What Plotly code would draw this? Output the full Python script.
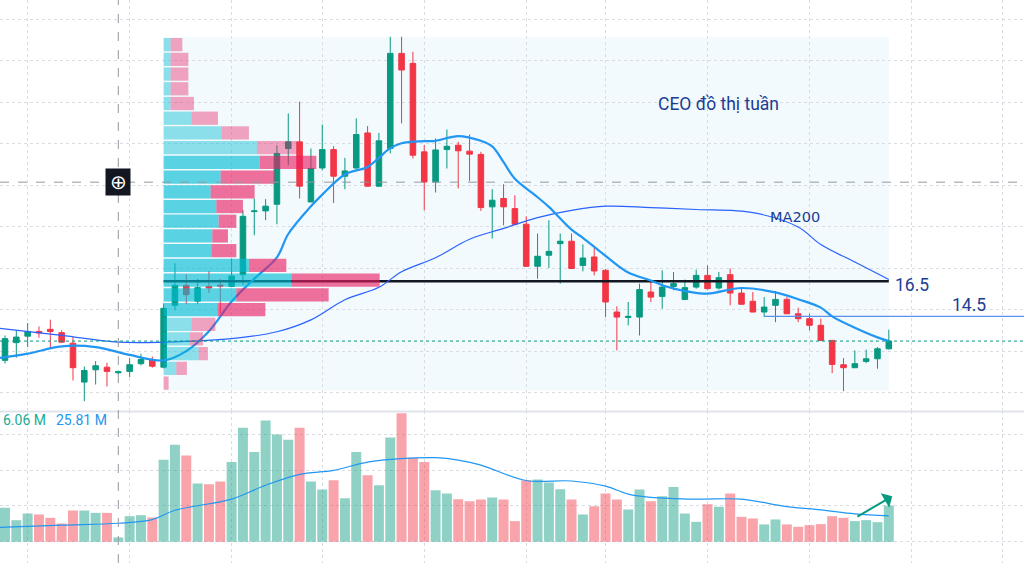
import plotly.graph_objects as go

# ---------------- data (weekly candles) ----------------
opens = [11.99, 13.00, 13.37, 13.64, 13.76, 13.57, 12.97, 10.75, 11.45, 11.60,
         11.28, 11.36, 11.80, 12.03, 11.60, 15.13, 16.27, 15.37, 16.21, 16.29,
         16.21, 16.88, 20.48, 20.52, 20.90, 24.08, 24.46, 21.03, 22.97, 24.02,
         22.50, 22.97, 24.97, 21.93, 24.08, 29.51, 28.94, 23.89, 22.17, 24.02,
         24.27, 23.93, 23.74, 20.75, 21.23, 20.65, 19.76, 17.36, 17.99, 18.65,
         18.79, 17.41, 17.89, 17.13, 14.75, 14.44, 14.46, 15.89, 15.64, 16.21,
         15.47, 16.17, 16.84, 16.12, 16.88, 15.83, 15.36, 14.75, 15.13, 15.47,
         14.65, 14.37, 13.99, 13.13, 11.74, 11.57, 11.93, 12.08, 12.65]
highs = [13.41, 13.70, 14.12, 13.93, 14.31, 13.70, 13.32, 11.64, 11.95, 11.85,
         11.41, 12.12, 12.37, 12.21, 15.24, 17.53, 16.90, 16.63, 17.09, 16.63,
         17.80, 20.56, 21.23, 21.19, 24.27, 26.08, 26.75, 24.08, 25.45, 24.21,
         23.55, 25.80, 25.36, 24.97, 30.46, 30.46, 29.60, 24.27, 24.65, 25.17,
         24.46, 24.88, 23.89, 21.76, 22.04, 21.41, 20.21, 19.23, 19.99, 19.23,
         19.23, 18.61, 18.43, 17.20, 15.07, 15.32, 16.37, 16.46, 17.13, 17.03,
         16.60, 17.17, 17.41, 17.03, 17.23, 16.12, 15.89, 15.60, 15.95, 15.60,
         15.00, 14.65, 14.37, 13.15, 12.12, 12.56, 12.60, 12.75, 13.74]
lows = [11.81, 12.14, 12.75, 13.28, 12.65, 12.98, 10.84, 9.66, 10.61, 10.50,
        11.19, 11.03, 11.70, 11.57, 11.53, 14.84, 15.19, 15.19, 15.83, 14.67,
        16.16, 16.27, 19.13, 19.99, 19.76, 23.13, 21.23, 21.03, 22.84, 20.97,
        21.76, 22.90, 21.90, 21.90, 23.80, 25.51, 23.51, 20.56, 21.57, 22.94,
        21.80, 22.23, 20.52, 18.94, 19.70, 19.70, 17.32, 16.65, 17.26, 16.37,
        17.20, 17.07, 16.84, 14.46, 12.56, 13.99, 13.41, 15.32, 14.94, 15.99,
        15.45, 16.08, 16.03, 16.03, 15.13, 15.17, 14.73, 14.46, 14.17, 14.63,
        14.17, 13.70, 13.11, 11.26, 10.23, 11.55, 11.83, 11.51, 12.60]
closes = [13.23, 13.32, 13.64, 13.55, 13.64, 13.03, 11.57, 11.41, 11.68, 11.36,
          11.34, 11.74, 12.04, 11.66, 14.96, 16.27, 15.74, 16.14, 16.12, 16.23,
          16.80, 20.21, 20.52, 20.79, 23.80, 24.46, 21.93, 22.94, 24.02, 22.50,
          22.80, 24.88, 21.93, 24.52, 29.51, 28.56, 23.70, 22.17, 24.00, 24.21,
          23.95, 23.76, 20.71, 21.13, 20.75, 19.76, 17.36, 17.93, 18.21, 18.79,
          17.23, 17.83, 17.09, 15.32, 14.46, 14.50, 16.03, 15.60, 16.17, 16.37,
          16.14, 16.84, 16.08, 16.71, 15.83, 15.19, 14.75, 15.03, 15.47, 14.65,
          14.37, 13.99, 13.13, 11.76, 11.57, 11.80, 12.08, 12.65, 13.09]
volumes_m = [47.3, 30.1, 39.4, 38.1, 33.4, 25.5, 43.6, 43.6, 40.3, 40.3,
             6.06, 35.7, 37.1, 33.9, 114.5, 135.4, 120.5, 81.2, 80.2, 84.0,
             111.2, 159.0, 125.1, 169.2, 149.7, 142.3, 159.0, 84.0, 72.8, 85.8,
             60.7, 125.1, 92.7, 78.8, 145.5, 179.3, 117.3, 111.2, 71.9, 67.3,
             59.4, 56.6, 58.9, 61.7, 58.9, 28.8, 85.8, 86.7, 82.6, 73.3,
             58.9, 38.1, 49.6, 67.3, 58.9, 45.0, 72.8, 56.6, 63.5, 76.5,
             39.4, 27.8, 52.4, 48.7, 67.3, 34.8, 32.5, 24.2, 31.1, 24.2,
             20.9, 23.2, 24.6, 35.7, 33.4, 28.8, 30.2, 27.4, 50.6]
candle_idx = list(range(len(opens)))

# moving averages (candle index, value)
ma_idx = [-1, 2, 5, 8, 11, 14, 16, 18, 20, 22, 24, 25, 27, 28, 30, 32, 33, 34, 35, 37,
          38, 40, 42, 43, 44, 45, 47, 48, 50, 51, 53, 55, 57, 58, 60, 62, 65, 68, 70,
          72, 73, 75, 77, 78]
ma_val = [12.08, 12.37, 12.79, 12.75, 12.30, 11.99, 12.52, 13.65, 15.35, 16.65, 17.87,
          19.20, 20.78, 21.45, 22.60, 23.03, 23.55, 24.10, 24.38, 24.50, 24.52, 24.79,
          24.52, 24.20, 23.30, 22.35, 21.30, 20.75, 19.45, 18.98, 17.95, 17.00, 16.55,
          16.28, 15.95, 15.80, 16.12, 15.87, 15.48, 15.00, 14.50, 13.85, 13.30, 13.09]
ma200_idx = [-1, 5, 10, 14, 20, 24, 27, 30, 33, 35, 38, 41, 44, 47, 50, 53, 57, 61,
             66, 70, 72, 75, 78]
ma200_val = [13.85, 13.42, 13.03, 13.03, 13.23, 13.62, 14.30, 15.45, 16.16, 17.05,
             17.85, 18.90, 19.52, 20.14, 20.55, 20.79, 20.71, 20.60, 20.42, 19.60,
             18.60, 17.60, 16.60]
vma_idx = [-1, 5, 10, 13, 15, 20, 23, 26, 29, 32, 35, 38, 40, 42, 46, 50, 53, 55, 57,
           61, 65, 69, 72, 75, 78]
vma_val = [19.8, 23.2, 25.81, 31.0, 44.0, 59.5, 78.8, 94.1, 99.7, 111.2, 116.0, 117.3,
           114.0, 107.0, 85.5, 84.8, 77.5, 66.5, 62.0, 59.4, 59.4, 49.0, 44.5, 39.0, 36.1]

# fixed-range volume profile (rows listed bottom -> top)
profile_up = [0, 12.7, 35, 26, 27.7, 53.7, 72.7, 127.7, 85.3, 47.7, 48.7, 55,
              52.7, 47, 57, 96, 93.3, 57.7, 27.7, 7, 7, 7, 7, 7]
profile_down = [5, 10.6, 9.3, 13.3, 24, 48, 92.3, 88.3, 37.4, 25, 15.6, 17.7,
                26.6, 44, 54, 56.7, 40, 27.6, 26.6, 23.3, 17.7, 17.7, 17.7, 11.7]
value_area_rows = (5, 15)        # inclusive, bottom-indexed
profile_low, profile_high = 10.27, 30.43
range_start, range_end = 14, 78
poc_price = 16.5
level_price = 14.5
level_start = 67

price_grid = [31.47, 29.10, 26.73, 24.36, 21.99, 19.61, 17.24, 14.87, 12.50, 10.13]
time_grid = [2, 11, 20, 28, 37, 46, 53, 62, 71, 80, 88]
vol_grid = [0, 50, 100, 150]
crosshair_idx, crosshair_price = 10, 22.16

# ---------------- styling constants ----------------
GREEN, RED = "#089981", "#F23645"
X_RANGE = [-0.44, 89.93]
PRICE_RANGE = [9.071, 32.557]
VOL_RANGE = [-29.6, 181.7]
PX_PER_IDX = 11.33
TXT = "#1C3D94"

fig = go.Figure()

# volume bars
vol_colors = ["rgba(8,153,129,0.45)" if c >= o else "rgba(242,54,69,0.45)"
              for o, c in zip(opens, closes)]
fig.add_trace(go.Bar(x=candle_idx, y=volumes_m, marker_color=vol_colors,
                     marker_line_width=0, width=0.88, xaxis="x2", yaxis="y2",
                     hoverinfo="skip", showlegend=False))
fig.add_trace(go.Scatter(x=vma_idx, y=vma_val, mode="lines", xaxis="x2", yaxis="y2",
                         line=dict(color="#2196F3", width=1.2, shape="spline"),
                         hoverinfo="skip", showlegend=False))

# POC line and level lines (under profile)
fig.add_trace(go.Scatter(x=[range_start, range_end], y=[poc_price, poc_price], mode="lines",
                         line=dict(color="#131722", width=2.5), showlegend=False,
                         hoverinfo="skip"))
fig.add_trace(go.Scatter(x=[level_start, X_RANGE[1]], y=[level_price, level_price],
                         mode="lines", line=dict(color="#5B8FF0", width=1.3),
                         showlegend=False, hoverinfo="skip"))

# candles
fig.add_trace(go.Candlestick(x=candle_idx, open=opens, high=highs, low=lows, close=closes,
                             increasing=dict(line=dict(color=GREEN, width=1), fillcolor=GREEN),
                             decreasing=dict(line=dict(color=RED, width=1), fillcolor=RED),
                             whiskerwidth=0, showlegend=False, hoverinfo="skip"))

# moving averages
fig.add_trace(go.Scatter(x=ma200_idx, y=ma200_val, mode="lines",
                         line=dict(color="#2962FF", width=1.2, shape="spline"),
                         showlegend=False, hoverinfo="skip"))
fig.add_trace(go.Scatter(x=ma_idx, y=ma_val, mode="lines",
                         line=dict(color="#2196F3", width=2.2, shape="spline"),
                         showlegend=False, hoverinfo="skip"))

# volume profile on an overlay axis (drawn above candles)
n_rows = len(profile_up)
row_h = (profile_high - profile_low) / n_rows
row_mid = [profile_low + row_h * (k + 0.5) for k in range(n_rows)]
in_va = [value_area_rows[0] <= k <= value_area_rows[1] for k in range(n_rows)]
up_w = [u / PX_PER_IDX for u in profile_up]
dn_w = [d / PX_PER_IDX for d in profile_down]
fig.add_trace(go.Bar(y=row_mid, x=up_w, base=[range_start] * n_rows, orientation="h",
                     width=row_h * 0.9, xaxis="x3", yaxis="y3",
                     marker_color=["rgba(0,188,212,0.63)" if v else "rgba(0,188,212,0.43)" for v in in_va],
                     marker_line_width=0, showlegend=False, hoverinfo="skip"))
fig.add_trace(go.Bar(y=row_mid, x=dn_w, base=[range_start + w for w in up_w], orientation="h",
                     width=row_h * 0.9, xaxis="x3", yaxis="y3",
                     marker_color=["rgba(233,30,99,0.63)" if v else "rgba(233,30,99,0.40)" for v in in_va],
                     marker_line_width=0, showlegend=False, hoverinfo="skip"))

grid = dict(showgrid=True, gridcolor="#D9DCE3", griddash="dot", gridwidth=1,
            zeroline=False, showticklabels=False, ticks="", showline=False)

fig.update_layout(
    width=1024, height=563, margin=dict(l=0, r=0, t=0, b=0),
    paper_bgcolor="white", plot_bgcolor="white", barmode="overlay",
    font=dict(family="Roboto, Noto Sans, sans-serif"),
    xaxis=dict(range=X_RANGE, tickmode="array", tickvals=time_grid, anchor="y",
               rangeslider=dict(visible=False), **grid),
    yaxis=dict(range=PRICE_RANGE, domain=[0.2691, 1], tickmode="array",
               tickvals=price_grid, anchor="x", **grid),
    xaxis2=dict(range=X_RANGE, tickmode="array", tickvals=time_grid, anchor="y2",
                matches="x", **grid),
    yaxis2=dict(range=VOL_RANGE, domain=[0, 0.2691], tickmode="array",
                tickvals=vol_grid, anchor="x2", **grid),
    xaxis3=dict(range=X_RANGE, overlaying="x", anchor="y3", visible=False),
    yaxis3=dict(range=PRICE_RANGE, overlaying="y", anchor="x3", visible=False),
    showlegend=False,
)

# range background, panel separator, last price line, crosshair
fig.add_shape(type="rect", xref="x", yref="y", x0=range_start, x1=range_end,
              y0=profile_low, y1=profile_high, fillcolor="#F2FAFD", line_width=0,
              layer="below")
fig.add_shape(type="line", xref="paper", yref="paper", x0=0, x1=1, y0=0.2691, y1=0.2691,
              line=dict(color="#E0E3EB", width=2))
fig.add_shape(type="line", xref="paper", yref="y", x0=0, x1=1, y0=closes[-1], y1=closes[-1],
              line=dict(color=GREEN, width=1, dash="dot"))
fig.add_shape(type="line", xref="x", yref="paper", x0=crosshair_idx, x1=crosshair_idx,
              y0=0, y1=1, line=dict(color="#9598A1", width=1, dash="dash"))
fig.add_shape(type="line", xref="paper", yref="y", x0=0, x1=1, y0=crosshair_price,
              y1=crosshair_price, line=dict(color="#9598A1", width=1, dash="dash"))

# texts
fig.add_annotation(x=62.97, y=26.64, xref="x", yref="y", text="CEO đồ thị tuần",
                   showarrow=False, font=dict(size=17.5, color=TXT))
fig.add_annotation(x=69.73, y=20.16, xref="x", yref="y", text="MA200",
                   showarrow=False, font=dict(size=14.5, color=TXT, family="DejaVu Sans"))
fig.add_annotation(x=80.05, y=poc_price, xref="x", yref="y", text="16.5", yshift=-4,
                   showarrow=False, font=dict(size=17.5, color=TXT))
fig.add_annotation(x=85.1, y=level_price, xref="x", yref="y", text="14.5", yanchor="bottom",
                   yshift=-1, showarrow=False, font=dict(size=17.5, color=TXT))
fig.add_annotation(x=1 / 1024, y=1 - 430 / 563, xref="paper", yref="paper", text="6.06 M",
                   xanchor="left", showarrow=False, font=dict(size=14, color="#22AB94"))
fig.add_annotation(x=54 / 1024, y=1 - 430 / 563, xref="paper", yref="paper", text="25.81 M",
                   xanchor="left", showarrow=False, font=dict(size=14, color="#2196F3"))
fig.add_annotation(x=crosshair_idx, y=crosshair_price, xref="x", yref="y", text="⊕",
                   showarrow=False, bgcolor="#131722", width=24, height=26, borderpad=0,
                   font=dict(size=20, color="white"))
fig.add_annotation(x=78.3, y=63.5, ax=75.1, ay=33.9, xref="x2", yref="y2",
                   axref="x2", ayref="y2", showarrow=True, arrowhead=1, arrowsize=1.4,
                   arrowwidth=2, arrowcolor=GREEN, text="")

fig.write_html("out.html", config={"displayModeBar": False},
               post_script="document.body.style.margin='0';document.body.style.overflow='hidden';")
